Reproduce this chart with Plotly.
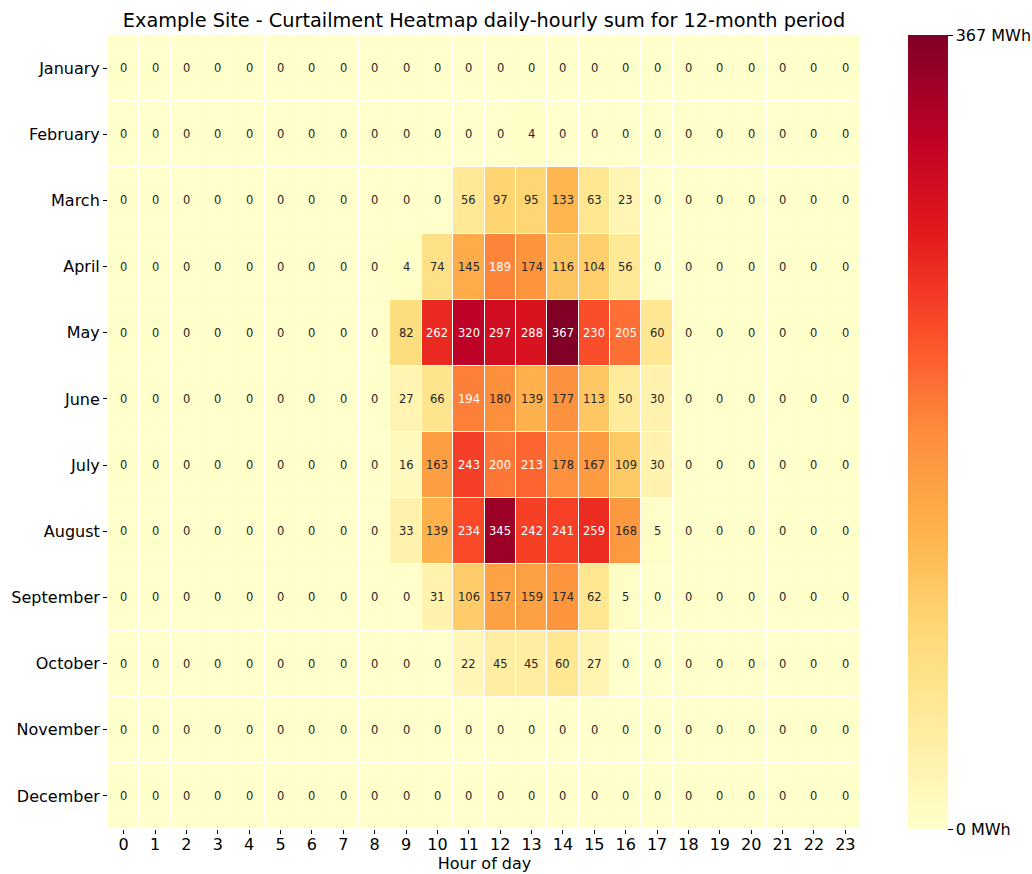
import plotly.graph_objects as go

months = ["January", "February", "March", "April", "May", "June", "July",
          "August", "September", "October", "November", "December"]
hours = list(range(24))

jan = [0]*24
feb = [0]*13 + [4] + [0]*10
mar = [0]*11 + [56, 97, 95, 133, 63, 23] + [0]*7
apr = [0]*9 + [4, 74, 145, 189, 174, 116, 104, 56] + [0]*7
may = [0]*9 + [82, 262, 320, 297, 288, 367, 230, 205, 60] + [0]*6
jun = [0]*9 + [27, 66, 194, 180, 139, 177, 113, 50, 30] + [0]*6
jul = [0]*9 + [16, 163, 243, 200, 213, 178, 167, 109, 30] + [0]*6
aug = [0]*9 + [33, 139, 234, 345, 242, 241, 259, 168, 5] + [0]*6
sep = [0]*10 + [31, 106, 157, 159, 174, 62, 5] + [0]*7
octo = [0]*11 + [22, 45, 45, 60, 27] + [0]*8
nov = [0]*24
dec = [0]*24

z = [jan, feb, mar, apr, may, jun, jul, aug, sep, octo, nov, dec]
zmax = max(max(r) for r in z)

ylorrd = ["#ffffcc", "#ffeda0", "#fed976", "#feb24c", "#fd8d3c",
          "#fc4e2a", "#e31a1c", "#bd0026", "#800026"]
colorscale = [[i/8, c] for i, c in enumerate(ylorrd)]

FONT = "DejaVu Sans"

fig = go.Figure(go.Heatmap(
    z=z, x=hours, y=months,
    colorscale=colorscale, zmin=0, zmax=zmax,
    xgap=1, ygap=1,
    hoverongaps=False,
    colorbar=dict(
        thickness=40, len=1, lenmode="fraction", y=0.5, yanchor="middle",
        x=(908-108)/753, xanchor="left", xpad=0, ypad=0,
        outlinewidth=0,
        tickmode="array", tickvals=[0, zmax],
        ticktext=["0 MWh", f"{zmax} MWh"],
        ticks="outside", ticklen=5, tickcolor="#000",
        tickfont=dict(family=FONT, size=16, color="#000"),
    ),
))

annotations = []
for mi, m in enumerate(months):
    for h in hours:
        v = z[mi][h]
        annotations.append(dict(
            x=h, y=m, text=str(v), showarrow=False,
            font=dict(family=FONT, size=11.5,
                      color="#ffffff" if v >= 185 else "#262626"),
        ))

fig.update_layout(
    width=1032, height=874,
    margin=dict(l=108, r=171, t=35, b=45, autoexpand=False),
    paper_bgcolor="white", plot_bgcolor="white",
    font=dict(family=FONT, color="#000"),
    title=dict(text="Example Site - Curtailment Heatmap daily-hourly sum for 12-month period",
               x=484/1032, xanchor="center", y=1-20/874, yanchor="middle",
               font=dict(family=FONT, size=19.3, color="#000")),
    annotations=annotations,
    xaxis=dict(tickmode="array", tickvals=hours, ticktext=[str(h) for h in hours],
               ticks="outside", ticklen=4, tickcolor="#000", automargin=False,
               ticklabelstandoff=-3,
               tickfont=dict(family=FONT, size=16),
               title=dict(text="Hour of day", font=dict(family=FONT, size=16), standoff=0),
               showgrid=False, zeroline=False, showline=False),
    yaxis=dict(autorange="reversed", ticks="outside", ticklen=4, tickcolor="#000",
               automargin=False,
               tickfont=dict(family=FONT, size=16),
               showgrid=False, zeroline=False, showline=False),
)

fig.write_html("out.html", config={"displayModeBar": False},
               post_script="document.body.style.margin='0';document.body.style.overflow='hidden';")
